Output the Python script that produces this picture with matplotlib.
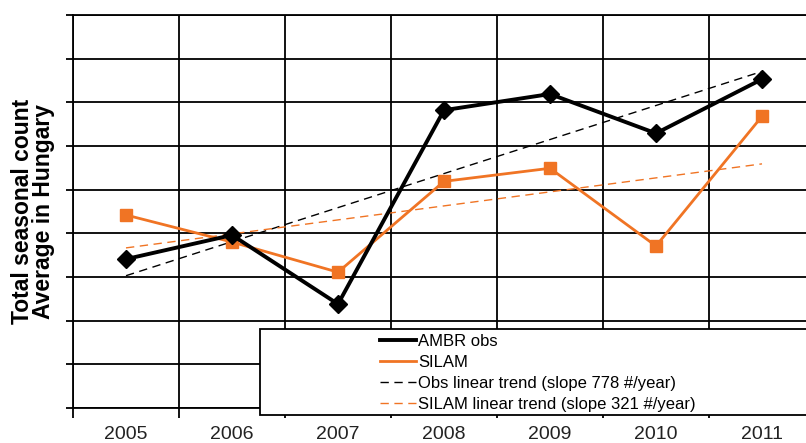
import numpy as np
import matplotlib
matplotlib.use('Agg')
import matplotlib.pyplot as plt
from matplotlib.patches import Rectangle

plt.rcParams['font.family'] = ['Liberation Sans', 'DejaVu Sans']

# values (gridline step = 1000)
years = [2005, 2006, 2007, 2008, 2009, 2010, 2011]
ambr_obs = [3410, 3960, 2380, 6820, 7190, 6290, 7530]
silam = [4420, 3800, 3110, 5190, 5490, 3710, 6680]
labels = ['AMBR obs', 'SILAM',
          'Obs linear trend (slope 778 #/year)',
          'SILAM linear trend (slope 321 #/year)']

orange = '#F07424'

x = np.arange(len(years))
obs_fit = np.polyfit(x, ambr_obs, 1)
sil_fit = np.polyfit(x, silam, 1)

fig = plt.figure(figsize=(8.06, 4.43), dpi=100)
W, H = 806, 443
# axes runs past the right edge like the cropped original
ax = fig.add_axes([73/W, (H-408)/H, (815-73)/W, (408-15)/H])

ax.plot(x, ambr_obs, color='black', lw=2.8, marker='D', ms=9, label=labels[0], zorder=5)
ax.plot(x, silam, color=orange, lw=2.0, marker='s', ms=8, label=labels[1], zorder=4)
ax.plot(x, np.polyval(obs_fit, x), color='black', lw=1.0, ls=(0, (6, 4)),
        label=labels[2], zorder=3)
ax.plot(x, np.polyval(sil_fit, x), color=orange, lw=1.0, ls=(0, (6, 4)),
        label=labels[3], zorder=3)

ax.set_xlim(-0.5, len(years) - 0.5)
ax.set_ylim(0, 9000)
ax.set_yticks(np.arange(0, 9001, 1000))
ax.set_yticklabels([])
ax.set_xticks(np.arange(-0.5, len(years), 1.0))
ax.set_xticklabels([])
ax.set_xticks(x, minor=True)
ax.set_xticklabels([str(y) for y in years], minor=True, fontsize=14, color='#222222')
ax.tick_params(axis='x', which='minor', length=0, pad=13)
ax.tick_params(axis='x', which='major', length=7, width=1.3, direction='out')
ax.tick_params(axis='y', length=5, width=1.3, direction='out')
ax.grid(True, which='major', color='black', lw=1.3)
for s in ['left', 'bottom', 'top']:
    ax.spines[s].set_linewidth(1.3)
ax.spines['right'].set_visible(False)

ax.set_ylabel('Total seasonal count\nAverage in Hungary', fontsize=16.5, fontweight='bold',
              linespacing=0.9)
ax.yaxis.set_label_coords(-0.024, 0.5)

# legend box (partly off the figure)
box = Rectangle((260/W, (H-415)/H), (815-260)/W, (415-329)/H, transform=fig.transFigure,
                facecolor='white', edgecolor='black', lw=1.3, zorder=10, clip_on=False)
fig.patches.append(box)
leg = fig.legend(loc='upper left', bbox_to_anchor=(368/W, (H-322)/H), frameon=False,
                 fontsize=12, handlelength=2.2, handletextpad=0.1, labelspacing=0.37,
                 borderpad=0.2)
leg.set_zorder(11)
for h in leg.legend_handles:
    h.set_marker('')

fig.savefig('out.png', dpi=100)
